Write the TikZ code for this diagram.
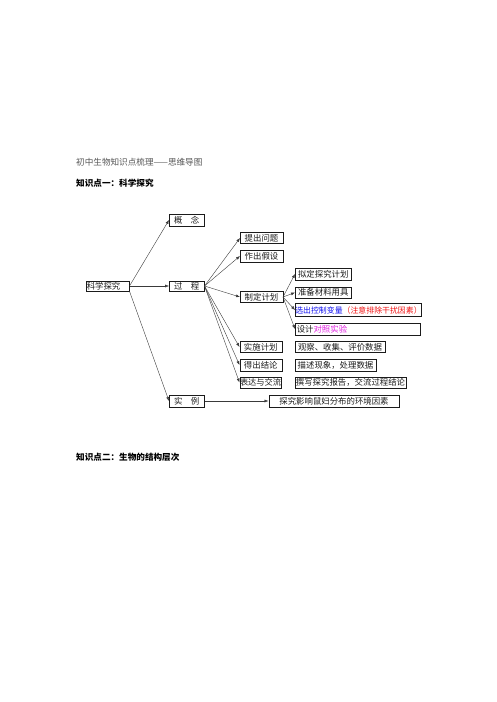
\documentclass[tikz,border=0pt]{standalone}
\usepackage{fontspec}
\setmainfont{Noto Sans CJK SC}
\usepackage{xcolor}
\usetikzlibrary{arrows.meta}
\definecolor{ink}{HTML}{1B1B1B}
\definecolor{ink2}{HTML}{3A3A3A}
\definecolor{head}{HTML}{555555}
\definecolor{vblue}{HTML}{1010F0}
\definecolor{vred}{HTML}{F01010}
\definecolor{vpink}{HTML}{E020E0}

\begin{document}
\begin{tikzpicture}[x=1pt, y=-1pt,
  box/.style={draw=ink, line width=0.5pt, anchor=west, inner sep=0pt, font=\fontsize{8.4}{9}\selectfont, text=ink},
  lbox/.style={box, align=left},
  arr/.style={-{Latex[length=4pt,width=3pt]}, draw=ink2, line width=0.4pt}]
\useasboundingbox (0,0) rectangle (496,702);
% headings
\node[anchor=west, inner sep=0pt, text=head, font=\fontsize{8.6}{9}\selectfont] (title) at (76,162) {初中生物知识点梳理——思维导图};
\node[anchor=west, inner sep=0pt, font=\fontsize{8.6}{9}\selectfont\bfseries] (kp1) at (76,183) {知识点一：科学探究};
\node[anchor=west, inner sep=0pt, font=\fontsize{8.6}{9}\selectfont\bfseries] (kp2) at (76,457) {知识点二：生物的结构层次};
% root and first level
\node[lbox, text width=42pt, inner xsep=0.5pt, minimum height=10pt] (kxtj) at (86,286) {科学探究};
\node[box, minimum width=35pt, minimum height=11.5pt] (gn) at (169,220) {概\hspace{1em}念};
\node[box, minimum width=35pt, minimum height=10.5pt] (gc) at (169,286) {过\hspace{1em}程};
\node[box, minimum width=35pt, minimum height=12pt] (sl) at (169,401) {实\hspace{1em}例};
% second level
\node[box, minimum width=42.5pt, minimum height=11pt] (tcwt) at (240,238) {提出问题};
\node[box, minimum width=42.5pt, minimum height=11.5pt] (zcjs) at (240,256) {作出假设};
\node[box, minimum width=42.5pt, minimum height=11pt] (zdjh) at (240,297) {制定计划};
\node[box, minimum width=42pt, minimum height=11pt] (ssjh) at (239.5,347) {实施计划};
\node[box, minimum width=42pt, minimum height=11.5pt] (dcjl) at (239.5,365) {得出结论};
\node[box, minimum width=41.5pt, minimum height=11.5pt, font=\fontsize{8.2}{9}\selectfont] (bdjl) at (239.5,382.5) {表达与交流};
\node[box, minimum width=130.5pt, minimum height=12pt] (tjyx) at (268.5,401) {探究影响鼠妇分布的环境因素};
% plan details
\node[box, minimum width=56pt, minimum height=12pt] (ndjh) at (295,274) {拟定探究计划};
\node[box, minimum width=56pt, minimum height=11.5pt] (zbcl) at (295,292.5) {准备材料用具};
\node[box, minimum width=124.5pt, minimum height=13pt, font=\fontsize{7.9}{9}\selectfont] (xcbl) at (295,310) {\textcolor{vblue}{选出控制变量}\textcolor{vred}{（注意排除干扰因素）}};
\node[lbox, text width=121.5pt, inner xsep=1.5pt, minimum height=12.5pt] (sjsy) at (295,329) {设计\textcolor{vpink}{对照实验}};
% right column
\node[box, minimum width=90.5pt, minimum height=11pt] (gcsj) at (294.5,347) {观察、收集、评价数据};
\node[box, minimum width=81.5pt, minimum height=11.5pt] (msxx) at (294.5,365) {描述现象，处理数据};
\node[box, minimum width=111.5pt, minimum height=11.5pt] (zxbg) at (294.5,382.5) {撰写探究报告，交流过程结论};
% connectors
\draw[arr] (kxtj.east) -- (gn.west);
\draw[arr] (kxtj.east) -- (gc.west);
\draw[arr] (kxtj.south east) -- (sl.west);
\foreach \n in {tcwt,zcjs,zdjh,ssjh,dcjl,bdjl}
  \draw[arr] (gc.east) -- (\n.west);
\foreach \n in {ndjh,zbcl,xcbl,sjsy}
  \draw[arr] (zdjh.east) -- (\n.west);
\draw[arr] (sl.east) -- (tjyx.west);
\end{tikzpicture}
\end{document}
